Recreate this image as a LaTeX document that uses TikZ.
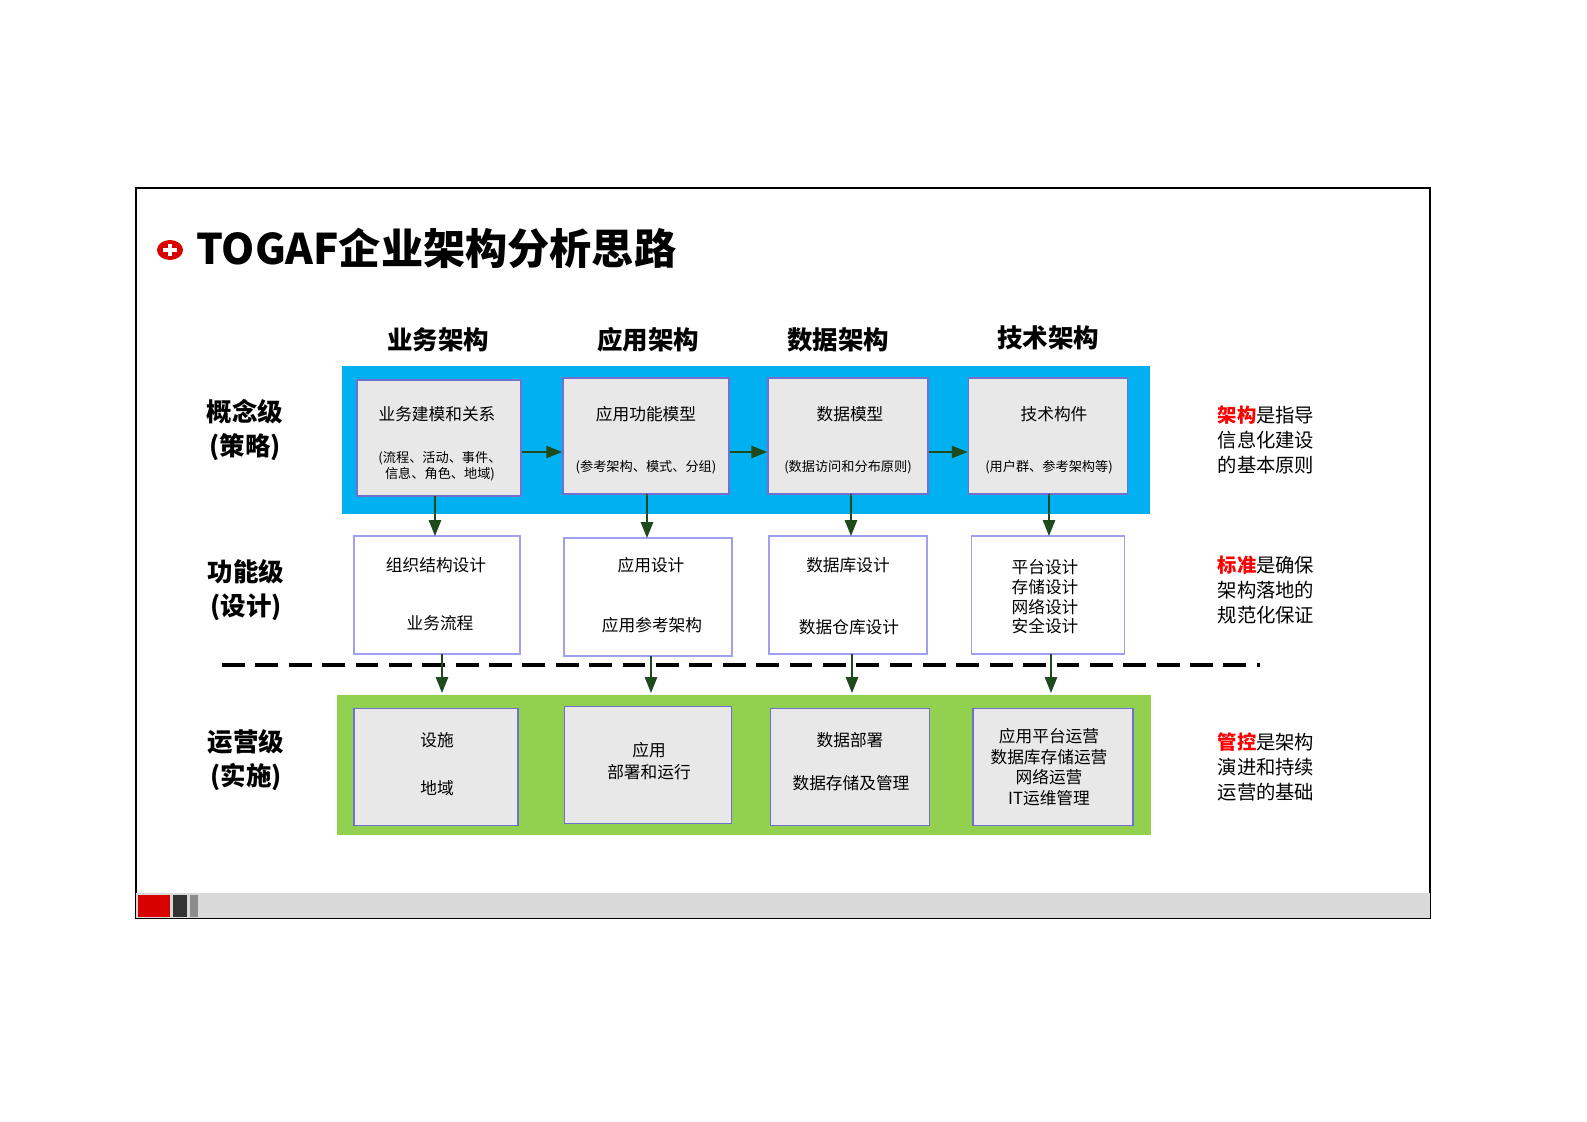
\documentclass[tikz,border=0pt]{standalone}
\usepackage{fontspec}
\setmainfont{Noto Sans CJK SC}
\usetikzlibrary{arrows.meta}
\definecolor{bandblue}{HTML}{00B0F0}
\definecolor{bandgreen}{HTML}{92D050}
\definecolor{boxgray}{HTML}{E8E8E8}
\definecolor{edgeblue}{HTML}{7070D0}
\definecolor{edgelight}{HTML}{A0A0F0}
\definecolor{arrgreen}{HTML}{1E4A1E}
\tikzset{
 graybox/.style={draw=edgeblue,line width=1pt,fill=boxgray,inner sep=0pt,align=center,font=\fontsize{9.5}{13}\selectfont},
 whitebox/.style={draw=edgelight,line width=0.9pt,fill=white,inner sep=0pt,align=center,font=\fontsize{9.5}{13}\selectfont},
 flow/.style={draw=arrgreen,line width=0.8pt,-{Triangle[length=9pt,width=7pt]},fill=arrgreen},
 hdr/.style={font=\bfseries\fontsize{14.5}{16}\selectfont},
 lvl/.style={font=\bfseries\fontsize{14.5}{19}\selectfont,align=center},
 note/.style={font=\fontsize{11}{14}\selectfont,align=left},
 small/.style={font=\fontsize{7.5}{10}\selectfont}
}
\begin{document}
\begin{tikzpicture}[x=0.02cm,y=-0.02cm]
\useasboundingbox (0,0) rectangle (1587,1122);
\fill[white] (0,0) rectangle (1587,1122);
\draw[line width=1pt] (136,188) rectangle (1430,918);
\fill[black!15] (136,893) rectangle (1430,918);
\fill[red!85!black] (138,895) rectangle (170,917);
\fill[black!80] (173,895) rectangle (187,917);
\fill[black!45] (190,895) rectangle (198,917);
% title
\fill[red!85!black] (170,250) ellipse [x radius=13, y radius=10];
\fill[white] (163,248) rectangle (177,252);
\fill[white] (168,244) rectangle (172,256);
\node[anchor=west,font=\bfseries\fontsize{24}{28}\selectfont,inner sep=0pt] (title) at (196,248) {TOGAF企业架构分析思路};
% headers
\node[hdr] (h1) at (438,340) {业务架构};
\node[hdr] (h2) at (648,340) {应用架构};
\node[hdr] (h3) at (838,340) {数据架构};
\node[hdr] (h4) at (1048,338) {技术架构};
% bands
\fill[bandblue] (342,366) rectangle (1150,514);
\fill[bandgreen] (337,695) rectangle (1151,835);
% top boxes
\node[graybox,minimum width=164*0.02cm,minimum height=116*0.02cm] (t1) at (439,438) {};
\node[graybox,minimum width=166*0.02cm,minimum height=116*0.02cm] (t2) at (646,436) {};
\node[graybox,minimum width=160*0.02cm,minimum height=116*0.02cm] (t3) at (848,436) {};
\node[graybox,minimum width=159*0.02cm,minimum height=116*0.02cm] (t4) at (1048,436) {};
\node[font=\fontsize{9.5}{13}\selectfont] (t1a) at (437,414) {业务建模和关系};
\node[small,align=center,font=\fontsize{7.5}{9}\selectfont] (t1b) at (440,466) {(流程、活动、事件、\\信息、角色、地域)};
\node[font=\fontsize{9.5}{13}\selectfont] (t2a) at (646,414) {应用功能模型};
\node[small] (t2b) at (646,467) {(参考架构、模式、分组)};
\node[font=\fontsize{9.5}{13}\selectfont] (t3a) at (850,414) {数据模型};
\node[small] (t3b) at (848,467) {(数据访问和分布原则)};
\node[font=\fontsize{9.5}{13}\selectfont] (t4a) at (1054,414) {技术构件};
\node[small] (t4b) at (1049,467) {(用户群、参考架构等)};
% middle boxes
\node[whitebox,minimum width=166*0.02cm,minimum height=118*0.02cm] (m1) at (437,595) {};
\node[whitebox,minimum width=168*0.02cm,minimum height=118*0.02cm] (m2) at (648,597) {};
\node[whitebox,minimum width=158*0.02cm,minimum height=118*0.02cm] (m3) at (848,595) {};
\node[whitebox,minimum width=153*0.02cm,minimum height=118*0.02cm] (m4) at (1048,595) {};
\node[font=\fontsize{9.5}{13}\selectfont] (m1a) at (436,565) {组织结构设计};
\node[font=\fontsize{9.5}{13}\selectfont] (m1b) at (440,623) {业务流程};
\node[font=\fontsize{9.5}{13}\selectfont] (m2a) at (651,565) {应用设计};
\node[font=\fontsize{9.5}{13}\selectfont] (m2b) at (652,625) {应用参考架构};
\node[font=\fontsize{9.5}{13}\selectfont] (m3a) at (848,565) {数据库设计};
\node[font=\fontsize{9.5}{13}\selectfont] (m3b) at (849,627) {数据仓库设计};
\node[font=\fontsize{9.5}{11.2}\selectfont,align=center] (m4a) at (1045,597) {平台设计\\存储设计\\网络设计\\安全设计};
% dashed line
\draw[line width=2.2pt,dash pattern=on 13pt off 6pt] (222,665) -- (1260,665);
% bottom boxes
\node[graybox,minimum width=164*0.02cm,minimum height=117*0.02cm] (b1) at (436,767) {};
\node[graybox,minimum width=167*0.02cm,minimum height=117*0.02cm] (b2) at (648,765) {};
\node[graybox,minimum width=159*0.02cm,minimum height=117*0.02cm] (b3) at (850,767) {};
\node[graybox,minimum width=160*0.02cm,minimum height=117*0.02cm] (b4) at (1053,767) {};
\node[font=\fontsize{9.5}{13}\selectfont] (b1a) at (437,740) {设施};
\node[font=\fontsize{9.5}{13}\selectfont] (b1b) at (437,788) {地域};
\node[font=\fontsize{9.5}{12.5}\selectfont,align=center] (b2a) at (649,761) {应用\\部署和运行};
\node[font=\fontsize{9.5}{13}\selectfont] (b3a) at (850,740) {数据部署};
\node[font=\fontsize{9.5}{13}\selectfont] (b3b) at (851,783) {数据存储及管理};
\node[font=\fontsize{9.5}{11.8}\selectfont,align=center] (b4a) at (1049,767) {应用平台运营\\数据库存储运营\\网络运营\\IT运维管理};
% arrows horizontal
\draw[flow] (t1.east|-0,452) -- (t2.west|-0,452);
\draw[flow] (t2.east|-0,452) -- (t3.west|-0,452);
\draw[flow] (t3.east|-0,452) -- (t4.west|-0,452);
% vertical arrows
\draw[flow] (435,496) -- (435,536);
\draw[flow] (647,494) -- (647,538);
\draw[flow] (851,494) -- (851,536);
\draw[flow] (1049,494) -- (1049,536);
\draw[flow] (442,654) -- (442,693);
\draw[flow] (651,656) -- (651,693);
\draw[flow] (852,654) -- (852,693);
\draw[flow] (1051,654) -- (1051,693);
% level labels
\node[lvl] (l1) at (245,430) {概念级\\(策略)};
\node[lvl] (l2) at (246,590) {功能级\\(设计)};
\node[lvl] (l3) at (246,760) {运营级\\(实施)};
% notes
\node[note] (n1) at (1266,440) {\textcolor{red}{\bfseries 架构}是指导\\信息化建设\\的基本原则};
\node[note] (n2) at (1266,590) {\textcolor{red}{\bfseries 标准}是确保\\架构落地的\\规范化保证};
\node[note] (n3) at (1266,767) {\textcolor{red}{\bfseries 管控}是架构\\演进和持续\\运营的基础};
\end{tikzpicture}
\end{document}
